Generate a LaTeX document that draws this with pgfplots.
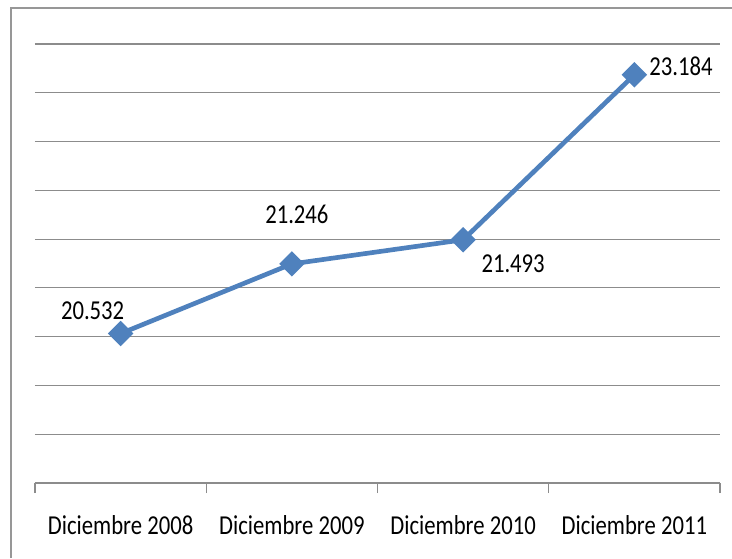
\documentclass[border=0pt]{standalone}
\usepackage{pgfplots}
\pgfplotsset{compat=1.18}
\usepackage{fontspec}
\setmainfont{Carlito}[FakeStretch=0.83]
\definecolor{serie}{HTML}{4F81BD}
\definecolor{rejilla}{HTML}{8C8C8C}
\begin{document}
\begin{tikzpicture}[x=0.75pt,y=0.75pt]
% picture is 732 x 558 px, axis box lower-left at px (35,483)
\useasboundingbox (-35,-75) rectangle (697,483);
\draw[rejilla!90,line width=1.6pt] (-24,-75) -- (-24,475) -- (697,475);
\begin{axis}[
  at={(0,0)}, anchor=south west,
  scale only axis, width=513.75pt, height=329.25pt,
  xmin=-0.5, xmax=3.5, ymin=19, ymax=23.5,
  axis x line*=bottom, axis y line*=left,
  y axis line style={draw=none},
  x axis line style={rejilla,line width=0.8pt,-},
  ytick={19,19.5,...,23.5}, yticklabels={},
  major y tick style={draw=none},
  ymajorgrids, grid style={rejilla,line width=0.8pt},
  xtick={0,1,2,3},
  xticklabels={Diciembre 2008,Diciembre 2009,Diciembre 2010,Diciembre 2011},
  major x tick style={draw=none},
  minor xtick={-0.5,0.5,1.5,2.5,3.5},
  minor x tick style={rejilla,line width=0.8pt},
  tick align=outside, minor tick length=7.5pt,
  xticklabel style={font=\fontsize{20.5}{22}\selectfont, inner sep=0pt, anchor=north, yshift=-20pt},
  clip=false,
]
\addplot[serie, line width=3.5pt, mark=square*, mark size=5pt,
  mark options={rotate=45, solid}] coordinates {(0,20.532) (1,21.246) (2,21.493) (3,23.184)};
\begin{scope}[every node/.style={font=\fontsize{20.5}{22}\selectfont, inner sep=0pt}]
\node at ([shift={(-21pt,17pt)}]axis cs:0,20.532) {20.532};
\node at ([shift={(3.75pt,37.5pt)}]axis cs:1,21.246) {21.246};
\node at ([shift={(37.5pt,-18pt)}]axis cs:2,21.493) {21.493};
\node at ([shift={(35pt,6.75pt)}]axis cs:3,23.184) {23.184};
\end{scope}
\end{axis}
\end{tikzpicture}
\end{document}
